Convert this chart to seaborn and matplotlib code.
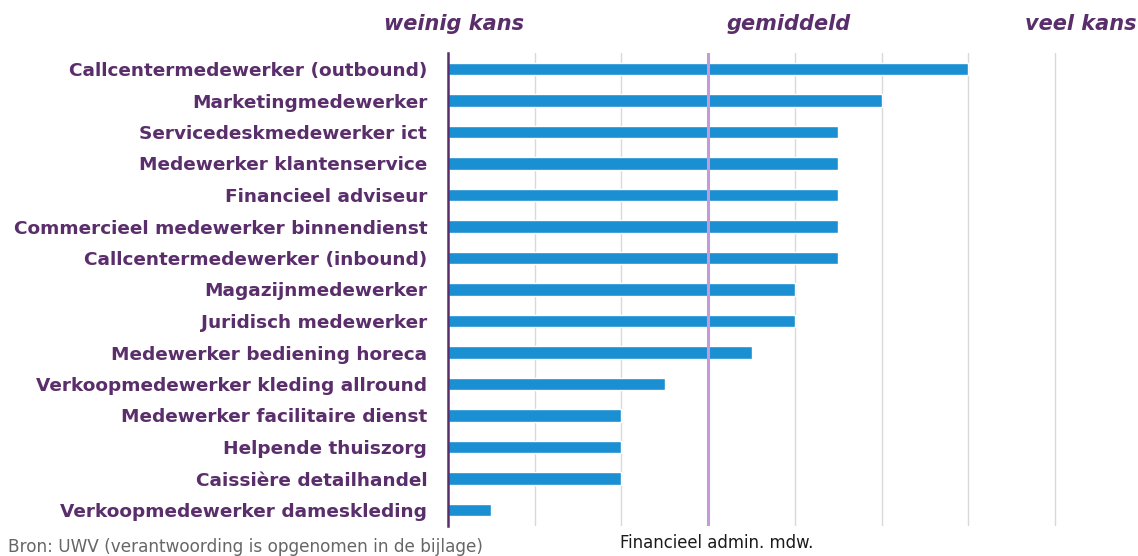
import matplotlib
matplotlib.use("Agg")
import matplotlib.pyplot as plt
import matplotlib.transforms as mtransforms
import seaborn as sns
import pandas as pd

beroepen = [
    "Callcentermedewerker (outbound)",
    "Marketingmedewerker",
    "Servicedeskmedewerker ict",
    "Medewerker klantenservice",
    "Financieel adviseur",
    "Commercieel medewerker binnendienst",
    "Callcentermedewerker (inbound)",
    "Magazijnmedewerker",
    "Juridisch medewerker",
    "Medewerker bediening horeca",
    "Verkoopmedewerker kleding allround",
    "Medewerker facilitaire dienst",
    "Helpende thuiszorg",
    "Caissière detailhandel",
    "Verkoopmedewerker dameskleding",
]
kans = [6, 5, 4.5, 4.5, 4.5, 4.5, 4.5, 4, 4, 3.5, 2.5, 2, 2, 2, 0.5]
gemiddelde = 3
schaal_labels = ["weinig kans", "gemiddeld", "veel kans"]
referentie = "Financieel admin. mdw."
bron = "Bron: UWV (verantwoording is opgenomen in de bijlage)"

sns.set_style("white")
plt.rcParams['font.family'] = ['DejaVu Sans']

PURPLE = "#5a2d6b"
BLUE = "#1a8fd2"

df = pd.DataFrame({"beroep": beroepen, "kans": kans})

fig = plt.figure(figsize=(11.38, 5.56), dpi=100)
ax = fig.add_axes([448/1138, 1-525.75/556, 1-448/1138, (525.75-53.25)/556])

sns.barplot(data=df, y="beroep", x="kans", orient="h", color=BLUE,
            saturation=1, width=0.4, ax=ax, zorder=3)

ax.set_xlim(0, 7.955)
ax.set_ylim(len(beroepen)-0.5, -0.5)
ax.set_xticks(range(1, 8))
ax.set_xticklabels([])
ax.tick_params(axis="x", length=0)
ax.tick_params(axis="y", length=0, pad=15)
ax.xaxis.grid(True, color="#d9d9d9", linewidth=1, zorder=0)
ax.set_axisbelow(True)
ax.axvline(gemiddelde, color="#c49bd6", linewidth=2.2, zorder=4)

for s in ["top", "right", "bottom"]:
    ax.spines[s].set_visible(False)
ax.spines["left"].set_color(PURPLE)
ax.spines["left"].set_linewidth(1.8)
ax.spines["left"].set_zorder(5)

ax.set_xlabel("")
ax.set_ylabel("")
for lbl in ax.get_yticklabels():
    lbl.set_fontweight("bold")
    lbl.set_color(PURPLE)
    lbl.set_fontsize(13.3)

trans = mtransforms.blended_transform_factory(ax.transData, fig.transFigure)
for x, t in zip([0.07, 3.93, 7.30], schaal_labels):
    ax.text(x, 1-24/556, t, transform=trans,
            ha="center", va="center", fontsize=15, fontweight="bold",
            fontstyle="italic", color=PURPLE)

fig.text(620/1138, 1-543/556, referentie, ha="left", va="center",
         fontsize=11.9, color="#1a1a1a")
fig.text(8/1138, 1-547/556, bron, ha="left", va="center",
         fontsize=12.2, color="#666666")

fig.savefig("out.png", dpi=100)
